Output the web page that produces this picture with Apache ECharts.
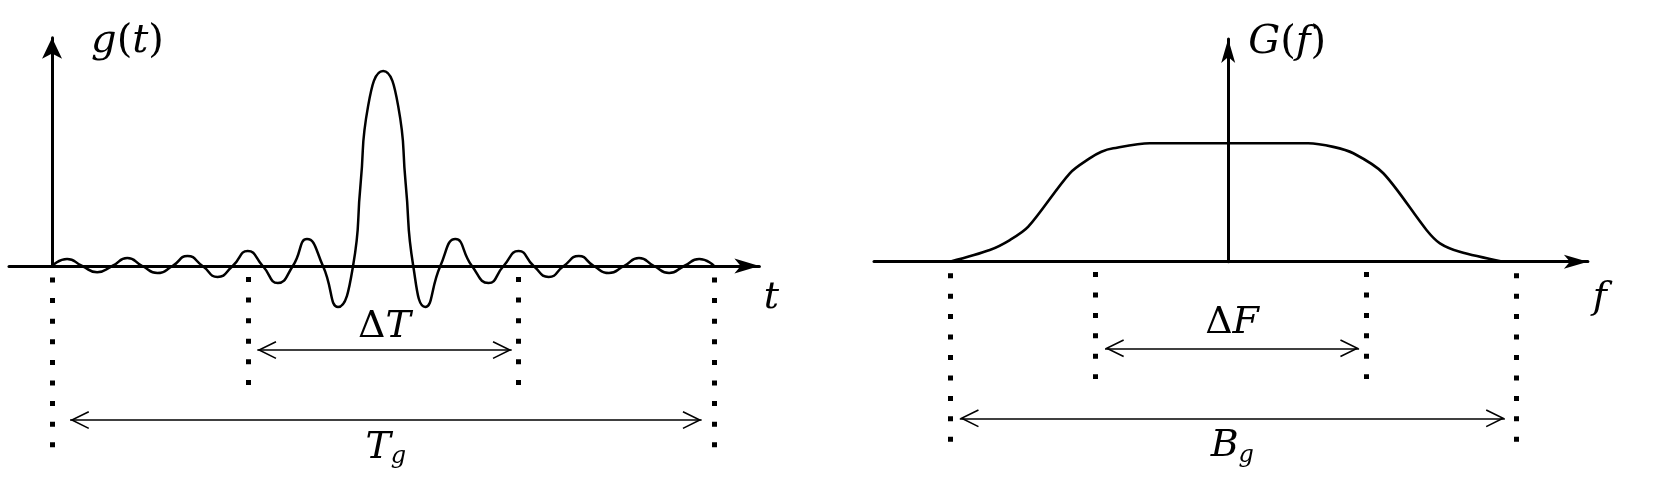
<!DOCTYPE html>
<html>
<head>
<meta charset="utf-8">
<script src="https://cdn.jsdelivr.net/npm/echarts@6/dist/echarts.min.js"></script>
<style>
  html, body { margin: 0; padding: 0; background: #fff; }
  #chart { width: 1661px; height: 492px; }
</style>
</head>
<body>
<div id="chart"></div>
<script>
// g(t): zero crossings and extrema
const tPts = [0, 0.5, 1, 1.5, 2, 2.5, 3, 3.5, 4, 4.5, 5, 5.5, 6, 6.5, 7, 7.5, 8, 8.47, 9, 9.5,
  10, 10.25, 10.5, 11, 11.5, 11.75, 12, 12.4, 12.9, 13.4, 13.95, 14.5, 15, 15.5,
  16, 16.5, 17, 17.5, 18, 18.5, 19, 19.5, 20, 20.5, 21, 21.5, 22]
const gPts = [0, 0.036, 0, -0.032, 0, 0.041, 0, -0.036, 0, 0.051, 0, -0.056, 0, 0.077, 0, -0.087, 0, 0.138, 0, -0.21,
  0, 0.42, 0.82, 1, 0.82, 0.42, 0, -0.21, 0, 0.138, 0, -0.087, 0, 0.077,
  0, -0.056, 0, 0.051, 0, -0.036, 0, 0.041, 0, -0.036, 0, 0.036, 0]

// G(f): spectrum outline
const fPts = [-10.12, -8.67, -7.94, -7.27, -5.76, -5.04, -4.61, -4.18, -2.85, 2.91, 3.82, 4.55, 5.64, 7.21, 7.7, 8.42, 10.0]
const GPts = [0, 0.099, 0.183, 0.296, 0.747, 0.873, 0.929, 0.958, 1.0, 1.0, 0.97, 0.916, 0.747, 0.268, 0.155, 0.084, 0]

// dotted guide lines and double arrows
const tGuides = [0, 6.53, 15.5, 22.0]
const fGuides = [-10.12, -4.82, 5.01, 10.49]
const deltaT = [6.82, 15.27]
const tWidth = [0.6, 21.58]
const deltaF = [-4.48, 4.76]
const bWidth = [-9.76, 10.06]

const FONT = "'DejaVu Serif', 'Liberation Serif', serif"
function richSet(size) {
  return {
    u: { fontFamily: FONT, fontSize: size, lineHeight: 42, color: '#000' },
    i: { fontFamily: FONT, fontSize: size, lineHeight: 42, fontStyle: 'italic', color: '#000' },
    s: { fontFamily: FONT, fontSize: 24, lineHeight: 31, fontStyle: 'italic', verticalAlign: 'bottom', color: '#000' }
  }
}
const CHEVRON = 'path://M0,0 L9,18.2 L7.56,18.9 L0,3.6 L-7.56,18.9 L-9,18.2 Z'
const HEAD = [18, 19]

const axisBase = {
  type: 'value',
  splitLine: { show: false },
  axisTick: { show: false },
  axisLabel: { show: false }
}

function mainX(min, max, name, arrow, padTop) {
  return Object.assign({}, axisBase, {
    min: min, max: max,
    name: name, nameLocation: 'end', nameGap: 12,
    nameTextStyle: { align: 'center', verticalAlign: 'top', padding: [padTop, 0, 0, 0], rich: richSet(38) },
    axisLine: { show: true, onZero: true, symbol: ['none', 'arrow'], symbolSize: arrow,
      lineStyle: { color: '#000', width: 3 } }
  })
}
function mainY(max, name, arrow, pad) {
  return Object.assign({}, axisBase, {
    min: 0, max: max,
    name: name, nameLocation: 'end', nameGap: -4,
    nameTextStyle: { align: 'left', verticalAlign: 'middle', padding: [0, 0, 0, pad], rich: richSet(40) },
    axisLine: { show: true, onZero: true, symbol: ['none', 'arrow'], symbolSize: arrow,
      lineStyle: { color: '#000', width: 3 } }
  })
}
function hidden(min, max, idx) {
  return { type: 'value', show: false, gridIndex: idx, min: min, max: max }
}

function guides(xs, tops, bottoms, gap) {
  return {
    silent: true,
    symbol: 'none',
    label: { show: false },
    emphasis: { disabled: true },
    lineStyle: { color: '#000', width: 5, type: [5, gap], cap: 'butt' },
    data: xs.map((x, i) => [{ coord: [x, tops[i]] }, { coord: [x, bottoms[i]] }])
  }
}
function arrows(items) {
  return {
    silent: true,
    symbol: [CHEVRON, CHEVRON],
    symbolOffset: [[0, 9.5], [0, 9.5]],
    emphasis: { disabled: true },
    lineStyle: { color: '#000', width: 1.6, type: 'solid' },
    label: { show: true, formatter: p => p.name, rich: richSet(38) },
    data: items.map(it => [
      { name: it.text, coord: [it.range[0], it.y], symbolSize: HEAD,
        label: { position: it.pos, distance: it.dist } },
      { coord: [it.range[1], it.y], symbolSize: HEAD }
    ])
  }
}

const chart = echarts.init(document.getElementById('chart'))
chart.setOption({
  backgroundColor: '#fff',
  animation: false,
  grid: [
    { left: 9, top: 37.85, width: 750.4, height: 228.15 },
    { left: 9, top: 37.85, width: 750.4, height: 432.15 },
    { left: 874, top: 39, width: 713.9, height: 222.7 },
    { left: 874, top: 39, width: 713.9, height: 431 }
  ],
  xAxis: [
    Object.assign(mainX(-1.43, 23.5, '{i|t}', [11.25, 25], 11), { gridIndex: 0 }),
    hidden(-1.43, 23.5, 1),
    Object.assign(mainX(-12.88, 13.08, '{i|f}', [10.5, 24], 15), { gridIndex: 2 }),
    hidden(-12.88, 13.08, 3)
  ],
  yAxis: [
    Object.assign(mainY(1.17, '{i|g}{u|(}{i|t}{u|)}', [15, 21], 39), { gridIndex: 0 }),
    hidden(-1.046, 1.17, 1),
    Object.assign(mainY(1.881, '{i|G}{u|(}{i|f}{u|)}', [10.5, 24], 20), { gridIndex: 2 }),
    hidden(-1.759, 1.881, 3)
  ],
  series: [
    {
      name: 'g(t)', type: 'line', xAxisIndex: 0, yAxisIndex: 0,
      data: tPts.map((t, i) => [t, gPts[i]]),
      smooth: 0.55, showSymbol: false, symbol: 'none', clip: false,
      lineStyle: { color: '#000', width: 2.5 }
    },
    {
      type: 'line', xAxisIndex: 1, yAxisIndex: 1, data: [],
      markLine: guides(tGuides, [-0.059, -0.056, -0.056, -0.059], [-0.931, -0.61, -0.61, -0.931], 15.6)
    },
    {
      type: 'line', xAxisIndex: 1, yAxisIndex: 1, data: [],
      markLine: arrows([
        { text: '{u|Δ}{i|T}', range: deltaT, y: -0.431, pos: 'insideMiddleTop', dist: 2 },
        { text: '{i|T}{s|g}', range: tWidth, y: -0.79, pos: 'insideMiddleBottom', dist: 7 }
      ])
    },
    {
      name: 'G(f)', type: 'line', xAxisIndex: 2, yAxisIndex: 2,
      data: fPts.map((f, i) => [f, GPts[i]]),
      smooth: 0.3, showSymbol: false, symbol: 'none', clip: false,
      lineStyle: { color: '#000', width: 2.6 }
    },
    {
      type: 'line', xAxisIndex: 3, yAxisIndex: 3, data: [],
      markLine: guides(fGuides, [-0.097, -0.087, -0.087, -0.097], [-1.521, -0.99, -0.99, -1.521], 15.45)
    },
    {
      type: 'line', xAxisIndex: 3, yAxisIndex: 3, data: [],
      markLine: arrows([
        { text: '{u|Δ}{i|F}', range: deltaF, y: -0.731, pos: 'insideMiddleTop', dist: 4 },
        { text: '{i|B}{s|g}', range: bWidth, y: -1.323, pos: 'insideMiddleBottom', dist: 7 }
      ])
    }
  ]
})
</script>
</body>
</html>
